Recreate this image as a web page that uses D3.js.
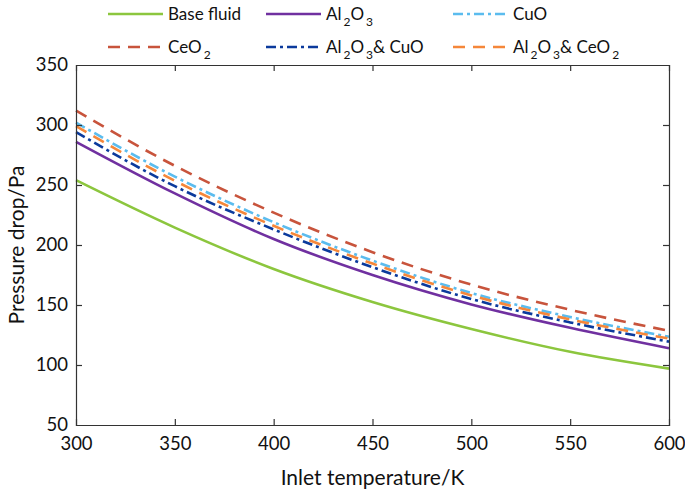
<!DOCTYPE html>
<html><head><meta charset="utf-8">
<script src="https://cdn.jsdelivr.net/npm/d3@7"></script>
<style>body{margin:0;background:#fff}svg{display:block}text{font-family:Lato,"Open Sans",sans-serif;fill:#111}</style>
</head><body>
<script>
const temps = [300, 350, 400, 450, 500, 550, 600];
const baseFluid = [254, 214.5, 180, 152.5, 130, 111, 97];
const al2o3 = [286, 243, 205, 175, 150.5, 131, 114];
const cuo = [302, 257, 219, 187, 160, 140, 123.5];
const ceo2 = [312, 266, 227, 194, 167, 146, 128.5];
const al2o3Cuo = [294, 249, 213, 181.5, 155, 135.5, 119.5];
const al2o3Ceo2 = [299, 253.5, 216, 184.5, 158, 138, 122];
const xTicks = [300, 350, 400, 450, 500, 550, 600];
const yTicks = [50, 100, 150, 200, 250, 300, 350];

const series = [
  {name: [["Base fluid", 0]], values: baseFluid, color: "#8cc63e", dash: null},
  {name: [["Al", 0], ["2", 1], ["O", 0], ["3", 1]], values: al2o3, color: "#7030a0", dash: null},
  {name: [["CuO", 0]], values: cuo, color: "#5bbcee", dash: "10,4,3,4"},
  {name: [["CeO", 0], ["2", 1]], values: ceo2, color: "#c8543c", dash: "12,8"},
  {name: [["Al", 0], ["2", 1], ["O", 0], ["3", 1], ["& CuO", 0]], values: al2o3Cuo, color: "#0b3a9c", dash: "10,4,3,4"},
  {name: [["Al", 0], ["2", 1], ["O", 0], ["3", 1], ["& CeO", 0], ["2", 1]], values: al2o3Ceo2, color: "#f5873a", dash: "12,8"}
];

const W = 685, H = 491;
const m = {left: 76, right: 16, top: 65, bottom: 66};
const svg = d3.select("body").append("svg").attr("width", W).attr("height", H);
const x = d3.scaleLinear().domain([300, 600]).range([m.left, W - m.right]);
const y = d3.scaleLinear().domain([50, 350]).range([H - m.bottom, m.top]);

const line = d3.line().x((d, i) => x(temps[i])).y(d => y(d)).curve(d3.curveMonotoneX);
const plot = svg.append("g");
series.forEach(s => {
  plot.append("path").attr("d", line(s.values)).attr("fill", "none")
    .attr("stroke", s.color).attr("stroke-width", 2.6)
    .attr("stroke-dasharray", s.dash);
});

const axCol = "#333";
const tl = 6;
const gx = svg.append("g").attr("transform", `translate(0,${y(50)})`)
  .call(d3.axisBottom(x).tickValues(xTicks).tickSize(-tl).tickPadding(12).tickFormat(d3.format("d")));
const gxt = svg.append("g").attr("transform", `translate(0,${y(350)})`)
  .call(d3.axisTop(x).tickValues(xTicks).tickSize(-tl).tickFormat(""));
const gy = svg.append("g").attr("transform", `translate(${x(300)},0)`)
  .call(d3.axisLeft(y).tickValues(yTicks).tickSize(-tl).tickPadding(8).tickFormat(d3.format("d")));
const gyr = svg.append("g").attr("transform", `translate(${x(600)},0)`)
  .call(d3.axisRight(y).tickValues(yTicks).tickSize(-tl).tickFormat(""));
[gx, gxt, gy, gyr].forEach(g => {
  g.select(".domain").attr("stroke", axCol).attr("stroke-width", 1.2);
  g.selectAll(".tick line").attr("stroke", axCol).attr("stroke-width", 1.2);
  g.selectAll(".tick text").attr("font-size", 18.5).attr("fill", "#111")
    .attr("font-family", "Lato, 'Open Sans', sans-serif");
});
gx.selectAll(".tick").filter(d => d === 300 || d === 600).select("line").remove();
gy.selectAll(".tick").filter(d => d === 50 || d === 350).select("line").remove();
gxt.selectAll(".tick").filter(d => d === 300 || d === 600).select("line").remove();
gyr.selectAll(".tick").filter(d => d === 50 || d === 350).select("line").remove();

svg.append("text").attr("x", (x(300) + x(600)) / 2).attr("y", 485)
  .attr("text-anchor", "middle").attr("font-size", 21).text("Inlet temperature/K");
svg.append("text").attr("transform", `translate(24,${(y(50) + y(350)) / 2}) rotate(-90)`)
  .attr("text-anchor", "middle").attr("font-size", 21).text("Pressure drop/Pa");

const colX = [108, 266, 453];
const rowY = [14, 47];
const lg = svg.append("g");
series.forEach((s, i) => {
  const cx = colX[i % 3], cy = rowY[Math.floor(i / 3)];
  lg.append("line").attr("x1", cx).attr("x2", cx + 55).attr("y1", cy).attr("y2", cy)
    .attr("stroke", s.color).attr("stroke-width", 2.6).attr("stroke-dasharray", s.dash);
  const t = lg.append("text").attr("x", cx + 60).attr("y", cy + 6).attr("font-size", 17);
  s.name.forEach(([txt, sub], k) => {
    const ts = t.append("tspan").text(txt);
    if (sub) ts.attr("font-size", 12).attr("dy", 6).attr("dx", 2);
    else if (k > 0 && s.name[k - 1][1]) ts.attr("dy", -6);
  });
});
</script>
</body></html>
